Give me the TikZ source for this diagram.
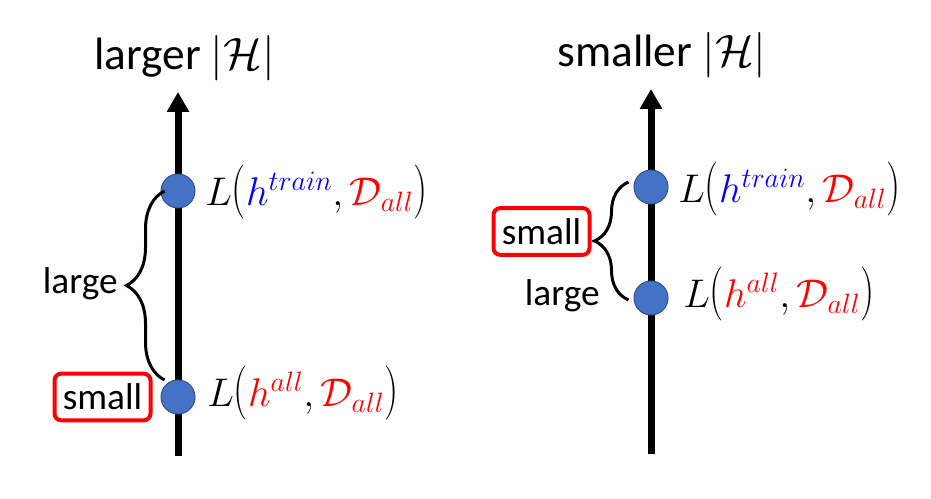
\RequirePackage{fix-cm}
\documentclass[tikz,border=0pt]{standalone}
\usepackage{fontspec}
\setmainfont{Carlito}
\usetikzlibrary{arrows.meta,positioning,calc,decorations.pathreplacing}
\definecolor{dotblue}{HTML}{4472C4}
\definecolor{dotedge}{HTML}{2F528F}
\definecolor{hred}{HTML}{FF0000}
\definecolor{hblue}{HTML}{0000FF}
\newcommand{\openp}{\mathopen{\scalebox{1}[1.35]{$($}}}
\newcommand{\closep}{\mathclose{\scalebox{1}[1.35]{$)$}}}

\begin{document}
\begin{tikzpicture}[
  x=0.75pt, y=-0.75pt,
  font=\fontsize{28}{34}\selectfont,
  axis/.style={line width=5.25pt, -{Triangle[width=16pt, length=15pt]}},
  pt/.style={circle, fill=dotblue, draw=dotedge, line width=0.75pt,
             minimum size=25.5pt, inner sep=0pt},
  brc/.style={decorate, decoration={brace, amplitude=#1}, line width=2.25pt},
  smallbox/.style={draw=hred, line width=3pt, rounded corners=5pt,
                   minimum width=72pt, minimum height=35pt, inner sep=0pt},
  title/.style={font=\fontsize{34}{40}\selectfont, anchor=base, inner sep=0pt},
  loss/.style={font=\fontsize{30}{36}\selectfont, anchor=base west, inner sep=0pt},
  word/.style={anchor=base east, inner sep=0pt}
]
\useasboundingbox (0,0) rectangle (931,499);

% left: larger hypothesis set
\node[title] (ltitle) at (184.5,70) {larger $|\mathcal{H}|$};
\coordinate (lbot) at (178,456);
\coordinate (ltop) at (178,92);
\draw[axis] (lbot) -- (ltop);
\node[pt] (ltrain) at (178,191) {};
\node[pt] (lall)   at (178,397) {};
\draw[brc=28.5pt] ($(lall.west)+(4,-17)$) -- ($(ltrain.west)+(4,0)$);
\node[word] (lbig) at (118,293) {large};
\node[smallbox, left=6pt of lall] (lsmall) {small};
\node[loss] (ltrainlbl) at (205,205)
  {$L\openp\textcolor{hblue}{h^{train}},\textcolor{hred}{\mathcal{D}_{all}}\closep$};
\node[loss] (lalllbl) at (207,406)
  {$L\openp\textcolor{hred}{h^{all}},\textcolor{hred}{\mathcal{D}_{all}}\closep$};

% right: smaller hypothesis set
\node[title] (rtitle) at (662,67) {smaller $|\mathcal{H}|$};
\coordinate (rbot) at (651,454);
\coordinate (rtop) at (651,89);
\draw[axis] (rbot) -- (rtop);
\node[pt] (rtrain) at (651,187) {};
\node[pt] (rall)   at (651,298) {};
\draw[brc=25.5pt] ($(rall.west)+(-5,2)$) -- ($(rtrain.west)+(-5,-5)$);
\node[word] (rbig) at (600,305) {large};
\node[smallbox] (rsmall) at (541.5,231.5) {small};
\node[loss] (rtrainlbl) at (678,202)
  {$L\openp\textcolor{hblue}{h^{train}},\textcolor{hred}{\mathcal{D}_{all}}\closep$};
\node[loss] (ralllbl) at (683,307)
  {$L\openp\textcolor{hred}{h^{all}},\textcolor{hred}{\mathcal{D}_{all}}\closep$};
\end{tikzpicture}
\end{document}
